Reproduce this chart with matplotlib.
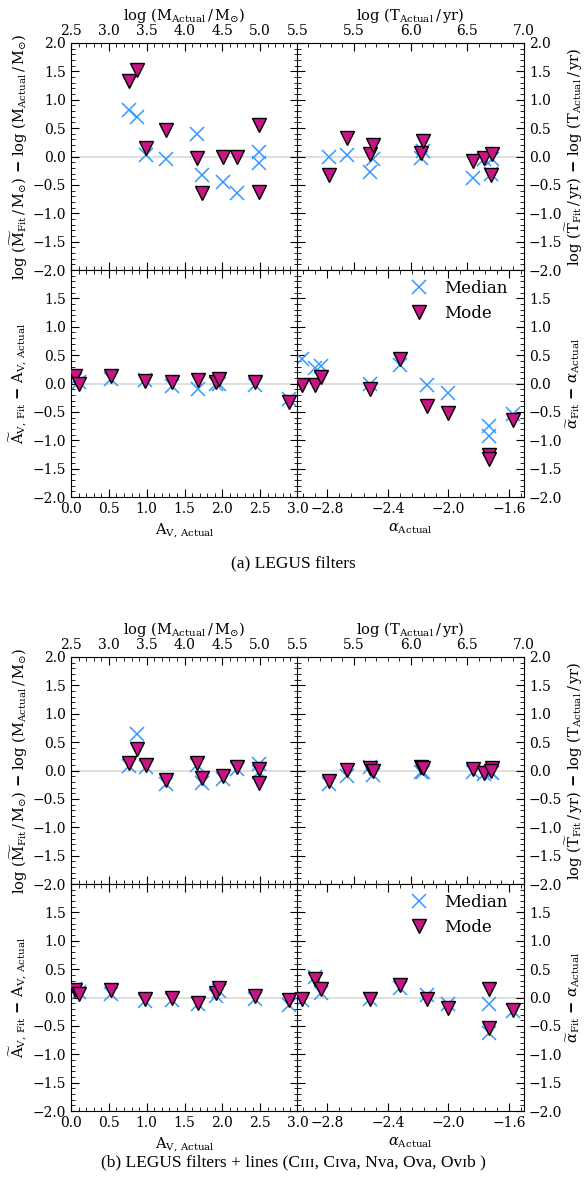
import matplotlib
matplotlib.use("Agg")
import matplotlib.pyplot as plt
from matplotlib.ticker import MultipleLocator

matplotlib.rcParams['font.family'] = ['DejaVu Serif', 'DejaVu Sans']
matplotlib.rcParams['mathtext.fontset'] = 'dejavuserif'
matplotlib.rcParams['font.size'] = 9.5

# ---- data: panel (a) LEGUS filters ----
logM_act = [3.27, 3.37, 3.49, 3.76, 4.16, 4.23, 4.51, 4.70, 4.99, 4.99]
a_dM_med = [0.82, 0.70, 0.03, -0.04, 0.39, -0.33, -0.45, -0.65, 0.08, -0.11]
a_dM_mode = [1.33, 1.52, 0.15, 0.46, -0.03, -0.64, -0.01, -0.01, 0.55, -0.63]

logT_act = [5.28, 5.44, 5.64, 5.67, 6.09, 6.11, 6.55, 6.65, 6.72, 6.71]
a_dT_med = [-0.01, 0.02, -0.27, -0.04, -0.02, 0.10, -0.37, -0.05, -0.05, -0.30]
a_dT_mode = [-0.32, 0.33, 0.04, 0.21, 0.07, 0.27, -0.08, -0.03, 0.05, -0.33]

Av_act = [0.05, 0.11, 0.53, 0.98, 1.34, 1.68, 1.91, 1.95, 2.43, 2.88]
a_dAv_med = [0.07, 0.02, 0.08, 0.06, -0.04, -0.10, 0.00, 0.00, -0.02, -0.28]
a_dAv_mode = [0.13, 0.00, 0.13, 0.05, 0.02, 0.06, 0.03, 0.08, 0.03, -0.33]

alpha_act = [-2.97, -2.88, -2.84, -2.52, -2.32, -2.14, -2.00, -1.73, -1.73, -1.57]
a_dal_med = [0.43, 0.27, 0.31, 0.00, 0.33, -0.02, -0.17, -0.75, -0.93, -0.53]
a_dal_mode = [-0.03, -0.03, 0.12, -0.10, 0.43, -0.40, -0.52, -1.26, -1.33, -0.64]

# ---- data: panel (b) LEGUS filters + lines ----
b_dM_med = [0.08, 0.65, 0.06, -0.23, 0.10, -0.22, -0.15, 0.03, 0.11, -0.03]
b_dM_mode = [0.13, 0.38, 0.09, -0.16, 0.13, -0.14, -0.09, 0.06, 0.03, -0.22]

b_dT_med = [-0.24, -0.09, 0.06, -0.08, -0.03, -0.03, -0.02, -0.06, -0.05, -0.03]
b_dT_mode = [-0.18, 0.01, 0.04, -0.01, 0.06, 0.04, 0.03, -0.04, 0.04, 0.00]

b_dAv_med = [0.15, 0.09, 0.06, -0.06, -0.05, -0.11, 0.02, 0.11, -0.02, -0.13]
b_dAv_mode = [0.13, 0.06, 0.13, -0.03, 0.00, -0.09, 0.08, 0.17, 0.02, -0.04]

b_dal_med = [-0.05, 0.37, 0.08, -0.03, 0.17, 0.04, -0.12, -0.11, -0.62, -0.24]
b_dal_mode = [-0.03, 0.32, 0.15, -0.02, 0.23, -0.03, -0.18, 0.15, -0.53, -0.22]

med_col = '#3399ff'
mode_col = '#c71585'

ylab_M = (r'log ($\widetilde{\rm M}_{\rm Fit}\,/\,{\rm M}_{\odot}$) $\mathbf{-}$ '
          r'log (${\rm M}_{\rm Actual}\,/\,{\rm M}_{\odot}$)')
ylab_T = (r'log ($\widetilde{\rm T}_{\rm Fit}\,/\,{\rm yr}$) $\mathbf{-}$ '
          r'log (${\rm T}_{\rm Actual}\,/\,{\rm yr}$)')
ylab_Av = r'$\widetilde{\rm A}_{\rm V,\,Fit}$ $\mathbf{-}$ ${\rm A}_{\rm V,\,Actual}$'
ylab_al = r'$\widetilde{\alpha}_{\rm Fit}$ $\mathbf{-}$ $\alpha_{\rm Actual}$'

lab_fs = 10.5


def style(ax, xlim, xticks, xminor, side):
    ax.set_xlim(*xlim)
    ax.set_ylim(-2.0, 2.0)
    ax.set_xticks(xticks)
    ax.xaxis.set_minor_locator(MultipleLocator(xminor))
    ax.yaxis.set_major_locator(MultipleLocator(0.5))
    ax.yaxis.set_minor_locator(MultipleLocator(0.1))
    ax.tick_params(which='both', direction='in', top=True, bottom=True,
                   left=True, right=True, labelsize=10)
    ax.tick_params(which='major', length=6)
    ax.tick_params(which='minor', length=3)
    if side == 'right':
        ax.tick_params(labelleft=False, labelright=True)
        ax.yaxis.set_label_position('right')
    ax.axhline(0.0, color='#d8d8d8', lw=1.2, zorder=0)


def points(ax, x, med, mode):
    ax.plot(x, med, 'x', color=med_col, ms=10, mew=1.1, label='Median',
            ls='none', zorder=2)
    ax.plot(x, mode, 'v', mfc=mode_col, mec='black', ms=10, mew=1.0,
            label='Mode', ls='none', zorder=3)


def panel(fig, top, data, caption, cap_y):
    dM_med, dM_mode, dT_med, dT_mode, dAv_med, dAv_mode, dal_med, dal_mode = data
    h = 0.1908
    x0, w = 71 / 587, 227 / 587
    x1 = 297 / 587
    axM = fig.add_axes([x0, top - h, w, h])
    axT = fig.add_axes([x1, top - h, w, h])
    axA = fig.add_axes([x0, top - 2 * h, w, h])
    axL = fig.add_axes([x1, top - 2 * h, w, h])

    points(axM, logM_act, dM_med, dM_mode)
    style(axM, (2.5, 5.5), [2.5, 3.0, 3.5, 4.0, 4.5, 5.0, 5.5], 0.1, 'left')
    axM.tick_params(labelbottom=False, labeltop=True)
    axM.xaxis.set_label_position('top')
    axM.set_xlabel(r'log (${\rm M}_{\rm Actual}\,/\,{\rm M}_{\odot}$)',
                   fontsize=lab_fs, labelpad=3)
    axM.set_ylabel(ylab_M, fontsize=lab_fs, labelpad=2)

    points(axT, logT_act, dT_med, dT_mode)
    style(axT, (5.0, 7.0), [5.5, 6.0, 6.5, 7.0], 0.1, 'right')
    axT.tick_params(labelbottom=False, labeltop=True)
    axT.xaxis.set_label_position('top')
    axT.set_xlabel(r'log (${\rm T}_{\rm Actual}\,/\,{\rm yr}$)',
                   fontsize=lab_fs, labelpad=3)
    axT.set_ylabel(ylab_T, fontsize=lab_fs, labelpad=1)

    points(axA, Av_act, dAv_med, dAv_mode)
    style(axA, (0.0, 3.0), [0.0, 0.5, 1.0, 1.5, 2.0, 2.5, 3.0], 0.1, 'left')
    axA.set_yticks([-2.0, -1.5, -1.0, -0.5, 0.0, 0.5, 1.0, 1.5])
    axA.set_ylim(-2.0, 2.0)
    axA.set_xlabel(r'${\rm A}_{\rm V,\,Actual}$', fontsize=lab_fs)
    axA.set_ylabel(ylab_Av, fontsize=lab_fs, labelpad=2)

    points(axL, alpha_act, dal_med, dal_mode)
    style(axL, (-3.0, -1.5), [-2.8, -2.4, -2.0, -1.6], 0.08, 'right')
    axL.set_yticks([-2.0, -1.5, -1.0, -0.5, 0.0, 0.5, 1.0, 1.5])
    axL.set_ylim(-2.0, 2.0)
    axL.set_xlabel(r'$\alpha_{\rm Actual}$', fontsize=lab_fs)
    axL.set_ylabel(ylab_al, fontsize=lab_fs, labelpad=1)
    axL.legend(loc='upper right', frameon=False, fontsize=12,
               handletextpad=0.5, borderaxespad=0.2, labelspacing=0.45,
               bbox_to_anchor=(0.97, 1.0))

    fig.text(0.5, cap_y, caption, ha='center', va='center', fontsize=12.5,
             family=['Liberation Serif', 'DejaVu Serif', 'DejaVu Sans'])


fig = plt.figure(figsize=(5.87, 11.90), dpi=100)

panel(fig, 1 - 43 / 1190,
      (a_dM_med, a_dM_mode, a_dT_med, a_dT_mode,
       a_dAv_med, a_dAv_mode, a_dal_med, a_dal_mode),
      '(a) LEGUS filters', 1 - 563 / 1190)
panel(fig, 1 - 657 / 1190,
      (b_dM_med, b_dM_mode, b_dT_med, b_dT_mode,
       b_dAv_med, b_dAv_mode, b_dal_med, b_dal_mode),
      '(b) LEGUS filters + lines (C\u026a\u026a\u026a, C\u026a\u1d20a, N\u1d20a, O\u1d20a, O\u1d20\u026ab )',
      1 - 1162 / 1190)

fig.savefig('out.png', dpi=100)
